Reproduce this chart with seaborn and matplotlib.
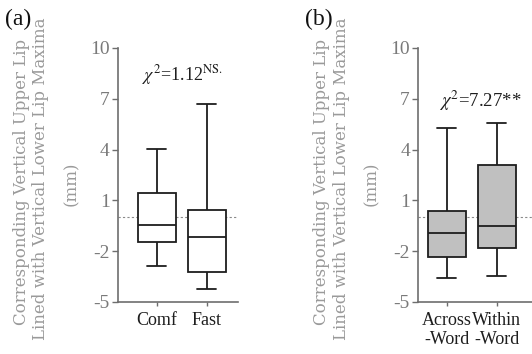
import numpy as np
import pandas as pd
import matplotlib
matplotlib.use("Agg")
import matplotlib.pyplot as plt
import seaborn as sns
from matplotlib import font_manager

# ---- data (five-number summaries: min, Q1, median, Q3, max)
cats_a = ["Comf", "Fast"]
comf = [-2.86, -1.46, -0.47, 1.45, 4.02]
fast = [-4.23, -3.25, -1.18, 0.45, 6.69]

cats_b = ["Across\n-Word", "Within\n-Word"]
across = [-3.60, -2.36, -0.93, 0.39, 5.26]
within = [-3.47, -1.83, -0.49, 3.11, 5.55]

yticks = [-5, -2, 1, 4, 7, 10]
stat_a = r"$\chi^2$=1.12$^{\mathrm{NS.}}$"
stat_b = r"$\chi^2$=7.27**"
ylab1 = "Corresponding Vertical Upper Lip"
ylab2 = "Lined with Vertical Lower Lip Maxima"
ylab3 = "(mm)"

sns.set_style("white")
names = {f.name for f in font_manager.fontManager.ttflist}
serif = "Liberation Serif" if "Liberation Serif" in names else "DejaVu Serif"
plt.rcParams["font.family"] = "serif"
plt.rcParams["font.serif"] = [serif, "DejaVu Serif"]
plt.rcParams["mathtext.fontset"] = "stix"
plt.rcParams["axes.unicode_minus"] = False

W, H = 532, 354
fig = plt.figure(figsize=(W / 100, H / 100), dpi=100)
fig.patch.set_facecolor("white")

def px_axes(x0, x1, y_top, y_bot):
    return fig.add_axes([x0 / W, 1 - y_bot / H, (x1 - x0) / W, (y_bot - y_top) / H])

dark = "#1e1e1e"
spine_c = "#6e6e6e"
tick_c = "#7a7a7a"
lab_c = "#9a9a9a"

def panel(ax, cats, groups, fill, xlim):
    df = pd.DataFrame({
        "cond": np.repeat(cats, [len(g) for g in groups]),
        "val": np.concatenate(groups),
    })
    sns.boxplot(data=df, x="cond", y="val", ax=ax, order=cats, color=fill,
                saturation=1, linecolor=dark, linewidth=1.3, width=0.76,
                whis=np.inf, showfliers=False)
    ax.axhline(0, color="#8a8a8a", lw=0.8, ls=(0, (2, 2)), zorder=0.5)
    ax.set_xlim(*xlim)
    ax.set_ylim(-5, 10)
    ax.set_yticks(yticks)
    ax.set_xlabel("")
    ax.set_ylabel("")
    for s in ["top", "right"]:
        ax.spines[s].set_visible(False)
    for s in ["left", "bottom"]:
        ax.spines[s].set_color(spine_c)
        ax.spines[s].set_linewidth(1.2)
    ax.tick_params(axis="y", direction="out", length=4, width=1, color=spine_c,
                   labelsize=14, labelcolor=tick_c, pad=2, left=True)
    ax.tick_params(axis="x", direction="out", length=3, width=1, color=spine_c,
                   labelsize=13, labelcolor=dark, pad=4, bottom=True)
    for t in ax.get_xticklabels() + ax.get_yticklabels():
        t.set_family(serif)
    ax.set_facecolor("none")

ax1 = px_axes(118, 238, 48, 302)
panel(ax1, cats_a, [comf, fast], "white", (-0.773, 1.627))
ax1.text(0.52, 8.1, stat_a, ha="center", va="baseline", fontsize=13, color=dark,
         family=serif)

ax2 = px_axes(418.3, 532, 48, 302)
panel(ax2, cats_b, [across, within], "#c0c0c0", (-0.567, 1.706))
ax2.text(0.68, 6.5, stat_b, ha="center", va="baseline", fontsize=13.5, color=dark,
         family=serif)

for off in (0, 300):
    fig.text((22 + off) / W, 1 - 182 / H, ylab1, rotation=90, ha="center", va="center",
             fontsize=12, color=lab_c, family=["DejaVu Serif"])
    fig.text((41 + off) / W, 1 - 179 / H, ylab2, rotation=90, ha="center", va="center",
             fontsize=12, color=lab_c, family=["DejaVu Serif"])
    fig.text((72 + off) / W, 1 - 184 / H, ylab3, rotation=90, ha="center", va="center",
             fontsize=12, color=lab_c, family=["DejaVu Serif"])

fig.text(5 / W, 1 - 19 / H, "(a)", ha="left", va="center", fontsize=17, color="#111111",
         family=serif)
fig.text(305 / W, 1 - 19 / H, "(b)", ha="left", va="center", fontsize=17, color="#111111",
         family=serif)

fig.savefig("out.png", dpi=100, facecolor="white")
